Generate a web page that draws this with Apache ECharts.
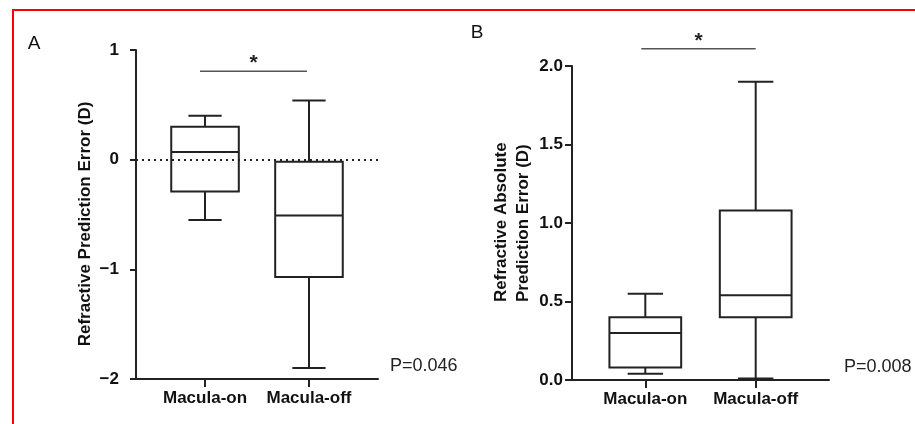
<!DOCTYPE html>
<html>
<head>
<meta charset="utf-8">
<script src="https://cdn.jsdelivr.net/npm/echarts@6/dist/echarts.min.js"></script>
<style>
  html, body { margin: 0; padding: 0; background: #fff; }
  #main { width: 915px; height: 424px; }
</style>
</head>
<body>
<div id="main"></div>
<script>
// data
var categories = ['Macula-on', 'Macula-off'];

// A: refractive prediction error (D)
var aMin = [-0.55, -1.90];
var aQ1 = [-0.29, -1.07];
var aMed = [0.07, -0.51];
var aQ3 = [0.30, -0.02];
var aMax = [0.40, 0.54];
var aTicks = [-2, -1, 0, 1];

// B: refractive absolute prediction error (D)
var bMin = [0.04, 0.01];
var bQ1 = [0.08, 0.40];
var bMed = [0.30, 0.54];
var bQ3 = [0.40, 1.08];
var bMax = [0.55, 1.90];
var bTicks = [0, 0.5, 1.0, 1.5, 2.0];

var FONT = 'Arial, "Liberation Sans", sans-serif';
var INK = '#222';

function boxData(mins, q1, med, q3, maxs) {
    var out = [];
    for (var i = 0; i < categories.length; i++) {
        out.push([i + 1, mins[i], q1[i], med[i], q3[i], maxs[i]]);
    }
    return out;
}

// box + whiskers drawn from the axes' scales
function renderBox(params, api) {
    var x = api.value(0);
    var pMin = api.coord([x, api.value(1)]);
    var pQ1 = api.coord([x, api.value(2)]);
    var pMed = api.coord([x, api.value(3)]);
    var pQ3 = api.coord([x, api.value(4)]);
    var pMax = api.coord([x, api.value(5)]);
    var unit = api.size([1, 0])[0];
    var half = unit * 0.325, cap = unit * 0.16;
    var cx = pMed[0];
    var st = { stroke: INK, lineWidth: 2, fill: null };
    return {
        type: 'group',
        children: [
            { type: 'line', shape: { x1: cx, y1: pMax[1], x2: cx, y2: pQ3[1] }, style: st },
            { type: 'line', shape: { x1: cx, y1: pQ1[1], x2: cx, y2: pMin[1] }, style: st },
            { type: 'line', shape: { x1: cx - cap, y1: pMax[1], x2: cx + cap, y2: pMax[1] }, style: st },
            { type: 'line', shape: { x1: cx - cap, y1: pMin[1], x2: cx + cap, y2: pMin[1] }, style: st },
            { type: 'rect', shape: { x: cx - half, y: pQ3[1], width: half * 2, height: pQ1[1] - pQ3[1] }, style: st },
            { type: 'line', shape: { x1: cx - half, y1: pMed[1], x2: cx + half, y2: pMed[1] }, style: st }
        ]
    };
}

function xAxisOf(grid) {
    return {
        type: 'value', gridIndex: grid, min: 0.336, max: 2.664,
        axisLine: { show: true, onZero: false, lineStyle: { color: INK, width: 2 } },
        axisTick: { show: true, length: 8, customValues: [1, 2], lineStyle: { color: INK, width: 2 } },
        axisLabel: {
            customValues: [1, 2], margin: 11,
            color: '#111', fontFamily: FONT, fontWeight: 'bold', fontSize: 17,
            formatter: function (v) { return categories[Math.round(v) - 1]; }
        },
        splitLine: { show: false }
    };
}

var chart = echarts.init(document.getElementById('main'));

chart.setOption({
    animation: false,
    backgroundColor: '#fff',
    grid: [
        { left: 136, top: 50, width: 242, height: 329 },
        { left: 572, top: 66, width: 257, height: 314 }
    ],
    xAxis: [xAxisOf(0), xAxisOf(1)],
    yAxis: [
        {
            type: 'value', gridIndex: 0, min: aTicks[0], max: aTicks[aTicks.length - 1], interval: 1,
            axisLine: { show: true, lineStyle: { color: INK, width: 2 } },
            axisTick: { show: true, length: 6, lineStyle: { color: INK, width: 2 } },
            axisLabel: {
                margin: 17, color: '#111', fontFamily: FONT, fontWeight: 'bold', fontSize: 17,
                formatter: function (v) { return String(v).replace('-', '\u2212'); }
            },
            splitLine: { show: false }
        },
        {
            type: 'value', gridIndex: 1, min: bTicks[0], max: bTicks[bTicks.length - 1], interval: 0.5,
            axisLine: { show: true, lineStyle: { color: INK, width: 2 } },
            axisTick: { show: true, length: 7, lineStyle: { color: INK, width: 2 } },
            axisLabel: {
                margin: 9, color: '#111', fontFamily: FONT, fontWeight: 'bold', fontSize: 17,
                formatter: function (v) { return v.toFixed(1); }
            },
            splitLine: { show: false }
        }
    ],
    series: [
        {
            type: 'custom', xAxisIndex: 0, yAxisIndex: 0,
            renderItem: renderBox,
            encode: { x: 0, y: [1, 2, 3, 4, 5] },
            data: boxData(aMin, aQ1, aMed, aQ3, aMax),
            markLine: {
                silent: true, symbol: 'none', z: 10,
                label: { show: false },
                lineStyle: { color: INK, width: 2, type: [2, 4] },
                data: [{ yAxis: 0 }]
            }
        },
        {
            type: 'custom', xAxisIndex: 1, yAxisIndex: 1,
            renderItem: renderBox,
            encode: { x: 0, y: [1, 2, 3, 4, 5] },
            data: boxData(bMin, bQ1, bMed, bQ3, bMax)
        }
    ]
});

// annotations: significance bars placed through the axes
function sigBar(grid, x1, x2, y) {
    var p1 = chart.convertToPixel({ gridIndex: grid }, [x1, y]);
    var p2 = chart.convertToPixel({ gridIndex: grid }, [x2, y]);
    return [
        { type: 'line', shape: { x1: p1[0], y1: p1[1], x2: p2[0], y2: p2[1] }, style: { stroke: '#555', lineWidth: 1.4 } },
        { type: 'text', x: (p1[0] + p2[0]) / 2, y: p1[1] - 8,
          style: { text: '*', font: 'bold 21px ' + FONT, fill: INK, align: 'center', verticalAlign: 'middle' } }
    ];
}

var label = function (txt, x, y, font, extra) {
    var el = { type: 'text', x: x, y: y, style: { text: txt, font: font, fill: '#111', align: 'center', verticalAlign: 'middle' } };
    if (extra) { for (var k in extra) { el[k] = extra[k]; } }
    return el;
};

var graphics = [
    { type: 'line', shape: { x1: 12, y1: 10, x2: 915, y2: 10 }, style: { stroke: '#f00', lineWidth: 2 } },
    { type: 'line', shape: { x1: 13, y1: 9, x2: 13, y2: 424 }, style: { stroke: '#f00', lineWidth: 2 } },
    label('A', 34, 44, '19px ' + FONT),
    label('B', 477, 33, '19px ' + FONT),
    label('Refractive Prediction Error (D)', 85, 224, 'bold 17px ' + FONT, { rotation: Math.PI / 2 }),
    { type: 'text', x: 501, y: 302, rotation: Math.PI / 2,
      style: { text: 'Refractive Absolute', font: 'bold 17px ' + FONT, fill: '#111', align: 'left', verticalAlign: 'middle' } },
    { type: 'text', x: 523, y: 302, rotation: Math.PI / 2,
      style: { text: 'Prediction Error (D)', font: 'bold 17px ' + FONT, fill: '#111', align: 'left', verticalAlign: 'middle' } },
    { type: 'text', x: 390, y: 366, style: { text: 'P=0.046', font: '18px ' + FONT, fill: '#222', align: 'left', verticalAlign: 'middle' } },
    { type: 'text', x: 844, y: 367, style: { text: 'P=0.008', font: '18px ' + FONT, fill: '#222', align: 'left', verticalAlign: 'middle' } }
].concat(sigBar(0, 0.952, 1.981, 0.806), sigBar(1, 0.964, 2.0, 2.11));

chart.setOption({ graphic: graphics });
</script>
</body>
</html>
